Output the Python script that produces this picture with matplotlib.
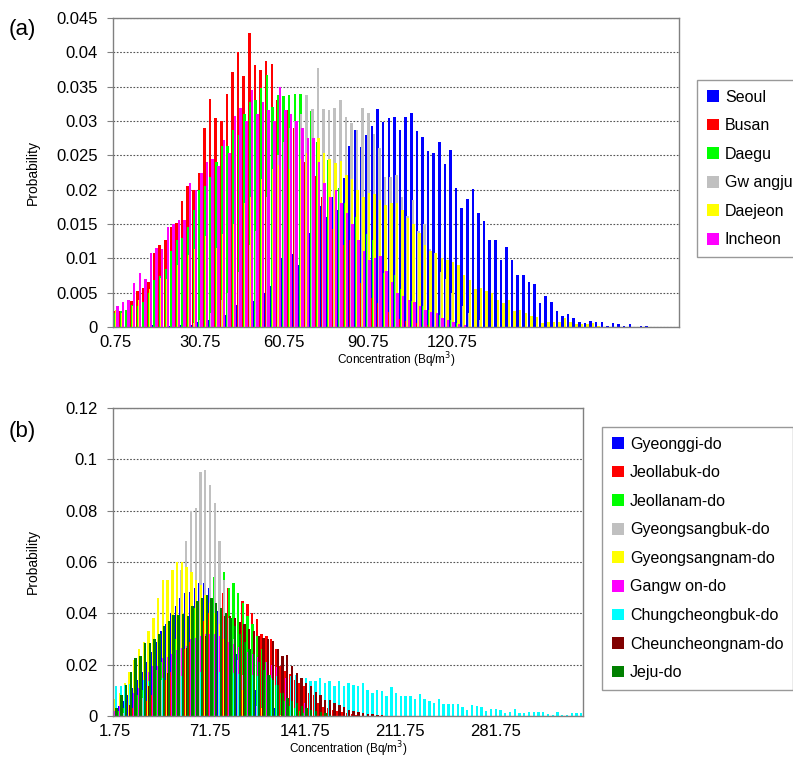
import numpy as np
import matplotlib
matplotlib.use("Agg")
import matplotlib.pyplot as plt
from matplotlib.patches import Patch

plt.rcParams['font.family'] = ['Liberation Sans', 'DejaVu Sans']

# ---------------- panel (a): metropolitan cities, bins of 2 Bq/m3 ----------------
n_cat_a = 101
first_bin_a, step_a = 0.75, 2.0
ticks_a = ['0.75', '30.75', '60.75', '90.75', '120.75']

seoul_start = 7
seoul = [0.0003, 0.0, 0.0, 0.0002, 0.0, 0.0003, 0.0006, 0.0003, 0.0007, 0.0005,
         0.0010, 0.0016, 0.0012, 0.0018, 0.0025, 0.0032, 0.0030, 0.0040, 0.0038, 0.0043,
         0.0050, 0.0059, 0.0080, 0.0100, 0.0080, 0.0106, 0.0090, 0.0110, 0.0137, 0.0130,
         0.0176, 0.0160, 0.0190, 0.0170, 0.0217, 0.0263, 0.0287, 0.0262, 0.0280, 0.0292,
         0.0317, 0.0299, 0.0305, 0.0306, 0.0287, 0.0306, 0.0311, 0.0285, 0.0277, 0.0256,
         0.0253, 0.0270, 0.0238, 0.0258, 0.0202, 0.0173, 0.0187, 0.0201, 0.0166, 0.0154,
         0.0127, 0.0127, 0.0098, 0.0117, 0.0097, 0.0076, 0.0076, 0.0066, 0.0062, 0.0035,
         0.0045, 0.0037, 0.0024, 0.0016, 0.0019, 0.0013, 0.0008, 0.0006, 0.0009, 0.0008,
         0.0007, 0.0001, 0.0006, 0.0005, 0.0001, 0.0004, 0.0, 0.0002, 0.0002]

busan_start = 0
busan = [0.0023, 0.0024, 0.0025, 0.0038, 0.0052, 0.0057, 0.0065, 0.0108, 0.0120, 0.0126,
         0.0145, 0.0152, 0.0183, 0.0205, 0.0200, 0.0225, 0.0290, 0.0332, 0.0304, 0.0300,
         0.0339, 0.0372, 0.0401, 0.0366, 0.0428, 0.0382, 0.0374, 0.0387, 0.0383, 0.0330,
         0.0310, 0.0316, 0.0290, 0.0260, 0.0240, 0.0230, 0.0220, 0.0190, 0.0166, 0.0142,
         0.0135, 0.0120, 0.0127, 0.0090, 0.0064, 0.0050, 0.0042, 0.0035, 0.0030, 0.0022,
         0.0016, 0.0012, 0.0009, 0.0008, 0.0006, 0.0006, 0.0003]

daegu_start = 0
daegu = [0.0020, 0.0023, 0.0025, 0.0032, 0.0030, 0.0037, 0.0050, 0.0069, 0.0075, 0.0084,
         0.0110, 0.0127, 0.0130, 0.0146, 0.0170, 0.0200, 0.0206, 0.0218, 0.0240, 0.0264,
         0.0263, 0.0287, 0.0280, 0.0310, 0.0328, 0.0330, 0.0348, 0.0367, 0.0320, 0.0338,
         0.0337, 0.0338, 0.0340, 0.0340, 0.0314, 0.0314, 0.0270, 0.0255, 0.0243, 0.0215,
         0.0202, 0.0180, 0.0200, 0.0160, 0.0146, 0.0135, 0.0127, 0.0100, 0.0079, 0.0078,
         0.0076, 0.0055, 0.0040, 0.0038, 0.0037, 0.0030, 0.0025, 0.0020, 0.0018, 0.0016,
         0.0010, 0.0006, 0.0004]

gwangju_start = 13
gwangju = [0.0003, 0.0006, 0.0010, 0.0015, 0.0020, 0.0030, 0.0040, 0.0050, 0.0060, 0.0080,
           0.0100, 0.0120, 0.0140, 0.0170, 0.0190, 0.0220, 0.0250, 0.0270, 0.0290, 0.0300,
           0.0310, 0.0338, 0.0318, 0.0377, 0.0317, 0.0316, 0.0319, 0.0331, 0.0306, 0.0297,
           0.0287, 0.0319, 0.0311, 0.0281, 0.0260, 0.0219, 0.0219, 0.0222, 0.0190, 0.0161,
           0.0185, 0.0140, 0.0150, 0.0113, 0.0108, 0.0080, 0.0070, 0.0050, 0.0040, 0.0030,
           0.0020, 0.0015, 0.0010, 0.0006]

daejeon_start = 0
daejeon = [0.0025, 0.0020, 0.0027, 0.0030, 0.0040, 0.0045, 0.0055, 0.0060, 0.0071, 0.0070,
           0.0080, 0.0090, 0.0095, 0.0105, 0.0113, 0.0125, 0.0132, 0.0125, 0.0115, 0.0135,
           0.0146, 0.0150, 0.0166, 0.0180, 0.0190, 0.0200, 0.0215, 0.0226, 0.0230, 0.0236,
           0.0217, 0.0230, 0.0239, 0.0245, 0.0253, 0.0260, 0.0275, 0.0253, 0.0244, 0.0239,
           0.0242, 0.0222, 0.0215, 0.0200, 0.0190, 0.0195, 0.0193, 0.0185, 0.0178, 0.0180,
           0.0180, 0.0170, 0.0159, 0.0150, 0.0137, 0.0120, 0.0110, 0.0108, 0.0100, 0.0097,
           0.0094, 0.0091, 0.0076, 0.0069, 0.0055, 0.0057, 0.0053, 0.0050, 0.0040, 0.0035,
           0.0040, 0.0023, 0.0025, 0.0021, 0.0016, 0.0014, 0.0006, 0.0008, 0.0007, 0.0008,
           0.0013, 0.0008, 0.0005, 0.0005, 0.0004, 0.0006, 0.0002]

incheon_start = 0
incheon = [0.0031, 0.0037, 0.0040, 0.0064, 0.0079, 0.0070, 0.0108, 0.0115, 0.0113, 0.0145,
           0.0150, 0.0156, 0.0156, 0.0210, 0.0200, 0.0225, 0.0240, 0.0245, 0.0234, 0.0273,
           0.0253, 0.0307, 0.0319, 0.0300, 0.0345, 0.0310, 0.0328, 0.0316, 0.0300, 0.0350,
           0.0316, 0.0310, 0.0300, 0.0290, 0.0275, 0.0275, 0.0240, 0.0210, 0.0190, 0.0200,
           0.0180, 0.0166, 0.0150, 0.0127, 0.0110, 0.0098, 0.0100, 0.0104, 0.0081, 0.0065,
           0.0050, 0.0045, 0.0040, 0.0037, 0.0030, 0.0025, 0.0022, 0.0020, 0.0013, 0.0010,
           0.0008, 0.0005, 0.0003]

names_a = ['Seoul', 'Busan', 'Daegu', 'Gw angju', 'Daejeon', 'Incheon']
colors_a = ['#0000FF', '#FF0000', '#00FF00', '#C0C0C0', '#FFFF00', '#FF00FF']
series_a = [(seoul_start, seoul), (busan_start, busan), (daegu_start, daegu),
            (gwangju_start, gwangju), (daejeon_start, daejeon), (incheon_start, incheon)]

# ---------------- panel (b): provinces, bins of 3.5 Bq/m3 ----------------
n_cat_b = 99
first_bin_b, step_b = 1.75, 3.5
ticks_b = ['1.75', '71.75', '141.75', '211.75', '281.75']

gyeonggi = [0.002, 0.004, 0.006, 0.008, 0.011, 0.014, 0.017, 0.021, 0.025, 0.029,
            0.033, 0.036, 0.040, 0.043, 0.046, 0.048, 0.0485, 0.050, 0.052, 0.052,
            0.050, 0.046, 0.041, 0.037, 0.032, 0.028, 0.024, 0.020, 0.016, 0.013,
            0.010, 0.008, 0.006, 0.004, 0.003, 0.002, 0.001]

jeollabuk = [0.0005, 0.001, 0.0015, 0.002, 0.003, 0.004, 0.005, 0.006, 0.008, 0.010,
             0.012, 0.014, 0.017, 0.020, 0.023, 0.026, 0.029, 0.032, 0.035, 0.037,
             0.040, 0.042, 0.046, 0.048, 0.050, 0.046, 0.0456, 0.045, 0.0436, 0.040,
             0.0377, 0.0318, 0.031, 0.030, 0.026, 0.0194, 0.0174, 0.0165, 0.0141, 0.0128,
             0.0115, 0.0089, 0.0083, 0.0052, 0.0037, 0.003, 0.0025, 0.002, 0.0015, 0.001,
             0.0008, 0.0005]

jeollanam = [0.001, 0.002, 0.003, 0.004, 0.006, 0.008, 0.010, 0.012, 0.015, 0.018,
             0.021, 0.024, 0.027, 0.030, 0.033, 0.036, 0.039, 0.042, 0.045, 0.048,
             0.052, 0.054, 0.050, 0.056, 0.050, 0.052, 0.048, 0.044, 0.039, 0.036,
             0.031, 0.026, 0.021, 0.016, 0.012, 0.009, 0.006, 0.004, 0.003, 0.002,
             0.001]

gyeongsangbuk = [0.0, 0.0, 0.001, 0.002, 0.003, 0.005, 0.007, 0.009, 0.011, 0.012,
                 0.014, 0.018, 0.028, 0.040, 0.057, 0.068, 0.080, 0.081, 0.095, 0.096,
                 0.090, 0.083, 0.068, 0.053, 0.038, 0.030, 0.022, 0.016, 0.011, 0.007,
                 0.004, 0.002, 0.001]

gyeongsangnam = [0.0065, 0.009, 0.013, 0.017, 0.022, 0.026, 0.029, 0.033, 0.038, 0.046,
                 0.053, 0.053, 0.057, 0.060, 0.060, 0.058, 0.056, 0.053, 0.051, 0.047,
                 0.044, 0.040, 0.036, 0.030, 0.020, 0.016, 0.013, 0.010, 0.008, 0.006,
                 0.004, 0.003, 0.002, 0.0015, 0.001, 0.0005]

gangwon = [0.002, 0.004, 0.005, 0.007, 0.009, 0.011, 0.014, 0.017, 0.0194, 0.0194,
           0.0227, 0.023, 0.024, 0.0256, 0.0265, 0.0272, 0.030, 0.0305, 0.031, 0.032,
           0.032, 0.032, 0.031, 0.030, 0.029, 0.028, 0.027, 0.026, 0.025, 0.024,
           0.023, 0.022, 0.021, 0.020, 0.019, 0.018, 0.015, 0.012, 0.009, 0.007,
           0.005, 0.003, 0.002, 0.001]

chungcheongbuk = [0.0115, 0.0115, 0.0122, 0.0125, 0.013, 0.0135, 0.014, 0.0135, 0.014, 0.0145,
                  0.015, 0.0145, 0.015, 0.0155, 0.0155, 0.016, 0.016, 0.0165, 0.017, 0.0175,
                  0.018, 0.0175, 0.017, 0.0175, 0.017, 0.0168, 0.0165, 0.016, 0.0165, 0.016,
                  0.0155, 0.016, 0.0155, 0.015, 0.0155, 0.0155, 0.016, 0.0155, 0.0161, 0.015,
                  0.0148, 0.0135, 0.0135, 0.0148, 0.0128, 0.0135, 0.0118, 0.0135, 0.0115, 0.0128,
                  0.0122, 0.0115, 0.0128, 0.0102, 0.0089, 0.0102, 0.0096, 0.0079, 0.0113, 0.0089,
                  0.0079, 0.0079, 0.0079, 0.0066, 0.0086, 0.0066, 0.006, 0.0052, 0.0067, 0.0047,
                  0.0047, 0.0047, 0.0047, 0.0037, 0.0024, 0.0042, 0.0039, 0.0037, 0.0021, 0.0026,
                  0.0026, 0.0024, 0.0013, 0.0017, 0.0026, 0.0013, 0.001, 0.0017, 0.0017, 0.0014,
                  0.0014, 0.0008, 0.0005, 0.0014, 0.0004, 0.0003, 0.001, 0.001, 0.001]

chungcheongnam = [0.0017, 0.0024, 0.0034, 0.0043, 0.0050, 0.0063, 0.0073, 0.0115, 0.0128, 0.0128,
                  0.0141, 0.0168, 0.0194, 0.0220, 0.0246, 0.0266, 0.0288, 0.0292, 0.0312, 0.0312,
                  0.0338, 0.0350, 0.0350, 0.0390, 0.0390, 0.0380, 0.0367, 0.0360, 0.0338, 0.0330,
                  0.0312, 0.0305, 0.0300, 0.0292, 0.0260, 0.0233, 0.0236, 0.0194, 0.0168, 0.0148,
                  0.0128, 0.0115, 0.0092, 0.0083, 0.0063, 0.0063, 0.0050, 0.0043, 0.0037, 0.0024,
                  0.0021, 0.0017, 0.0012, 0.0008, 0.0006, 0.0004, 0.0002]

jeju = [0.003, 0.008, 0.012, 0.017, 0.0227, 0.0233, 0.0286, 0.0283, 0.030, 0.0318,
        0.035, 0.037, 0.0393, 0.0393, 0.0397, 0.039, 0.043, 0.045, 0.046, 0.047,
        0.046, 0.044, 0.042, 0.040, 0.038, 0.035, 0.032, 0.029, 0.026, 0.024,
        0.021, 0.018, 0.016, 0.014, 0.012, 0.009, 0.007, 0.006, 0.005, 0.004,
        0.003, 0.0025, 0.002, 0.0015, 0.001, 0.0005]

names_b = ['Gyeonggi-do', 'Jeollabuk-do', 'Jeollanam-do', 'Gyeongsangbuk-do',
           'Gyeongsangnam-do', 'Gangw on-do', 'Chungcheongbuk-do',
           'Cheuncheongnam-do', 'Jeju-do']
colors_b = ['#0000FF', '#FF0000', '#00FF00', '#C0C0C0', '#FFFF00', '#FF00FF',
            '#00FFFF', '#800000', '#008000']
series_b = [(0, gyeonggi), (0, jeollabuk), (0, jeollanam), (0, gyeongsangbuk),
            (0, gyeongsangnam), (0, gangwon), (0, chungcheongbuk), (0, chungcheongnam),
            (0, jeju)]


def draw_panel(ax, series, colors, n_cat, width, spread, ymax, ystep, ticks, first, step):
    k = len(series)
    offs = np.linspace(-spread, spread, k)
    for i, (start, vals) in enumerate(series):
        x = np.arange(start, start + len(vals)) + offs[i]
        ax.bar(x, vals, width=width, color=colors[i], linewidth=0, zorder=2 + i * 0.01)
    ax.set_xlim(-0.5, n_cat - 0.5)
    ax.set_ylim(0, ymax)
    yt = np.round(np.arange(0, ymax + ystep / 2, ystep), 4)
    ax.set_yticks(yt)
    ax.set_yticklabels([f"{v:g}" for v in yt])
    ax.yaxis.grid(True, linestyle=(0, (1.5, 1.5)), color='#555555', linewidth=0.8, zorder=1)
    ax.set_axisbelow(True)
    pos = [round((float(t) - first) / step) for t in ticks]
    ax.set_xticks(pos)
    ax.set_xticklabels(ticks)
    ax.tick_params(axis='x', length=0, pad=6, labelsize=12)
    ax.tick_params(axis='y', length=4, width=0.8, color='#808080', pad=7, labelsize=12)
    for sp in ax.spines.values():
        sp.set_color('#808080')
        sp.set_linewidth(1.0)
    ax.set_ylabel('Probability', fontsize=10)
    ax.set_xlabel('Concentration (Bq/m$^3$)', fontsize=8.5, labelpad=0)


fig = plt.figure(figsize=(7.93, 7.68), dpi=100)
W, H = 793.0, 768.0

ax_a = fig.add_axes([113 / W, 1 - 327 / H, 566 / W, 309 / H])
draw_panel(ax_a, series_a, colors_a, n_cat_a, 0.45, 0.28, 0.045, 0.005,
           ticks_a, first_bin_a, step_a)
ax_a.yaxis.set_label_coords(-(113 - 40) / 566, 0.5)

ax_b = fig.add_axes([113 / W, 1 - 716 / H, 470 / W, 308 / H])
draw_panel(ax_b, series_b, colors_b, n_cat_b, 0.5, 0.26, 0.12, 0.02,
           ticks_b, first_bin_b, step_b)
ax_b.yaxis.set_label_coords(-(113 - 40) / 470, 0.5)

fig.text(9 / W, 1 - 30 / H, '(a)', fontsize=16, va='center', ha='left')
fig.text(9 / W, 1 - 432 / H, '(b)', fontsize=16, va='center', ha='left')

leg_kw = dict(loc='upper left', fontsize=11.5, frameon=True, fancybox=False,
              edgecolor='#808080', handlelength=0.75, handleheight=0.75,
              handletextpad=0.4, labelspacing=0.85, borderaxespad=0, borderpad=0.6)
ha = [Patch(facecolor=c, edgecolor='none') for c in colors_a]
la = fig.legend(ha, names_a, bbox_to_anchor=(697 / W, 1 - 80 / H), **leg_kw)
la.get_frame().set_linewidth(1.0)
hb = [Patch(facecolor=c, edgecolor='none') for c in colors_b]
lb = fig.legend(hb, names_b, bbox_to_anchor=(602 / W, 1 - 427 / H), **leg_kw)
lb.get_frame().set_linewidth(1.0)

fig.savefig('out.png', dpi=100)
